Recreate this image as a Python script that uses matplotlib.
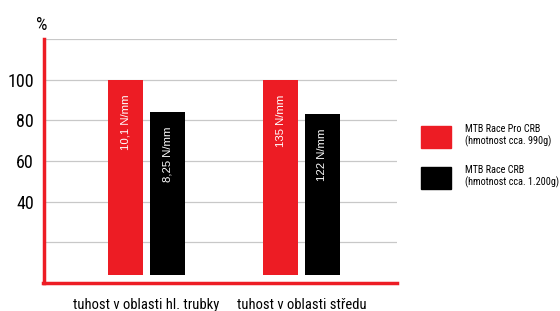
import matplotlib
matplotlib.use("Agg")
import matplotlib.pyplot as plt
from matplotlib.patches import Patch
from matplotlib import font_manager as fm
import numpy as np

categories = ["tuhost v oblasti hl. trubky", "tuhost v oblasti středu"]
series_names = ["MTB Race Pro CRB\n(hmotnost cca. 990g)", "MTB Race CRB\n(hmotnost cca. 1.200g)"]
pro_values = [100, 100]
race_values = [84, 83]
pro_labels = ["10,1 N/mm", "135 N/mm"]
race_labels = ["8,25 N/mm", "122 N/mm"]
ytick_values = [20, 40, 60, 80, 100, 120]
ytick_labels = ["", "40", "60", "80", "100", ""]

RED = "#ED1C24"
BLACK = "#000000"
BASE_GAP = 4  # bars float slightly above the axis line

# pick a condensed font if one is installed
ttf = fm.fontManager.ttflist
names = {f.name for f in ttf}
cond_name, cond_stretch = None, "normal"
for cand in ["Roboto Condensed", "Liberation Sans Narrow", "Open Sans Condensed",
             "Noto Sans Condensed", "DejaVu Sans Condensed"]:
    if cand in names:
        cond_name = cand
        break
if cond_name is None:
    for fam in ["Roboto", "Noto Sans", "DejaVu Sans", "Open Sans"]:
        if any(f.name == fam and f.stretch in ("condensed", "semi-condensed", "extra-condensed")
               for f in ttf):
            cond_name, cond_stretch = fam, "condensed"
            break
if cond_name is None:
    cond_name = "Liberation Sans"

def cfp(size):
    return fm.FontProperties(family=cond_name, stretch=cond_stretch, size=size)

fig = plt.figure(figsize=(5.6, 3.11), dpi=100)
ax = fig.add_axes([43.5/560, 1-283/311, (397-43.5)/560, (283-39)/311])

x = np.arange(len(categories))
w = 0.226
off = 0.135
b1 = ax.bar(x - off, np.array(pro_values) - BASE_GAP, bottom=BASE_GAP, width=w, color=RED, zorder=3)
b2 = ax.bar(x + off, np.array(race_values) - BASE_GAP, bottom=BASE_GAP, width=w, color=BLACK, zorder=3)

for bars, labels in ((b1, pro_labels), (b2, race_labels)):
    for r, lab in zip(bars, labels):
        ax.annotate(lab, xy=(r.get_x() + r.get_width()/2, r.get_y() + r.get_height()),
                    xytext=(0, -10.5), textcoords="offset points", rotation=90,
                    ha="center", va="top", color="white", fontsize=8.2,
                    family=["Liberation Sans", "DejaVu Sans"], zorder=4)

ax.set_xlim(-0.665, 1.616)
ax.set_ylim(0, 120)
ax.set_yticks(ytick_values)
ax.set_yticklabels(ytick_labels, fontproperties=cfp(13))
ax.set_xticks(x)
ax.set_xticklabels(categories, fontproperties=cfp(10.5))
ax.tick_params(axis="both", length=0)
ax.tick_params(axis="y", pad=7)
ax.tick_params(axis="x", pad=11)
ax.grid(axis="y", color="#c8c8c8", linewidth=0.9, zorder=0)
for s in ("top", "right"):
    ax.spines[s].set_visible(False)
for s in ("left", "bottom"):
    ax.spines[s].set_color(RED)
    ax.spines[s].set_linewidth(2.5)
    ax.spines[s].set_zorder(5)

fig.text(36/560, 1-30/311, "%", fontproperties=cfp(13), ha="left", va="baseline")

handles = [Patch(color=RED), Patch(color=BLACK)]
fig.legend(handles, series_names, loc="upper left", bbox_to_anchor=(421/560, 1-124/311),
           frameon=False, borderpad=0, borderaxespad=0,
           prop=cfp(7.3),
           handlelength=3.0, handleheight=2.95, handletextpad=1.3, labelspacing=1.7)

fig.savefig("out.png", dpi=100)
